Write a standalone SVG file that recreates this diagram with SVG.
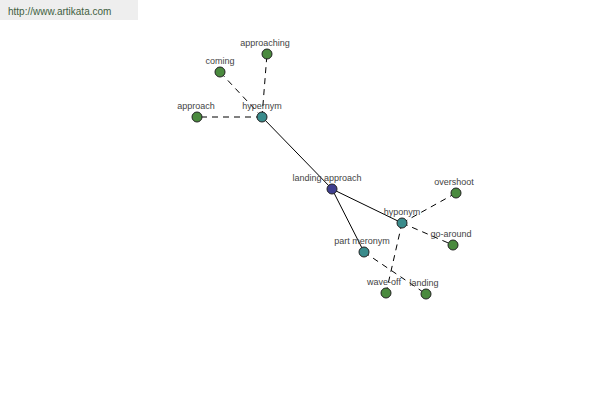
<svg xmlns="http://www.w3.org/2000/svg" width="600" height="400" viewBox="0 0 600 400">
<style>
.lbl{font-family:"Liberation Sans",Arial,sans-serif;font-size:9px;fill:#444;text-anchor:middle}
.n{stroke:#222;stroke-width:1}
.root{fill:#3f3f8f}
.rel{fill:#3a8c8c}
.leaf{fill:#4a8a3e}
.s{stroke:#000;stroke-width:1;fill:none}
.d{stroke:#000;stroke-width:1;fill:none;stroke-dasharray:6,5}
</style>
<rect width="600" height="400" fill="#fff"/>
<g id="banner">
<rect x="0" y="0" width="138" height="20" fill="#eeeeee"/>
<text x="8" y="15" font-family="Liberation Sans,Arial,sans-serif" font-size="10" fill="#3f5f3f">http://www.artikata.com</text>
</g>
<g id="connectors">
<line class="s" x1="332" y1="189" x2="262" y2="117"/>
<line class="s" x1="332" y1="189" x2="402" y2="223"/>
<line class="s" x1="332" y1="189" x2="364" y2="252"/>
<line class="d" x1="262" y1="117" x2="267" y2="54"/>
<line class="d" x1="262" y1="117" x2="220" y2="72"/>
<line class="d" x1="262" y1="117" x2="197" y2="117"/>
<line class="d" x1="402" y1="223" x2="456" y2="193"/>
<line class="d" x1="402" y1="223" x2="453" y2="245"/>
<line class="d" x1="402" y1="223" x2="386" y2="293"/>
<line class="d" x1="364" y1="252" x2="426" y2="294"/>
</g>
<g id="landing-approach"><circle class="n root" cx="332" cy="189" r="5"/><text class="lbl" x="327" y="181">landing approach</text></g>
<g id="hypernym"><circle class="n rel" cx="262" cy="117" r="5"/><text class="lbl" x="262" y="109">hypernym</text></g>
<g id="hyponym"><circle class="n rel" cx="402" cy="223" r="5"/><text class="lbl" x="402" y="215">hyponym</text></g>
<g id="part-meronym"><circle class="n rel" cx="364" cy="252" r="5"/><text class="lbl" x="362" y="244">part meronym</text></g>
<g id="approaching"><circle class="n leaf" cx="267" cy="54" r="5"/><text class="lbl" x="265" y="46">approaching</text></g>
<g id="coming"><circle class="n leaf" cx="220" cy="72" r="5"/><text class="lbl" x="220" y="64">coming</text></g>
<g id="approach"><circle class="n leaf" cx="197" cy="117" r="5"/><text class="lbl" x="196" y="109">approach</text></g>
<g id="overshoot"><circle class="n leaf" cx="456" cy="193" r="5"/><text class="lbl" x="454" y="185">overshoot</text></g>
<g id="go-around"><circle class="n leaf" cx="453" cy="245" r="5"/><text class="lbl" x="451" y="237">go-around</text></g>
<g id="wave-off"><circle class="n leaf" cx="386" cy="293" r="5"/><text class="lbl" x="384" y="285">wave-off</text></g>
<g id="landing"><circle class="n leaf" cx="426" cy="294" r="5"/><text class="lbl" x="424" y="286">landing</text></g>
</svg>
